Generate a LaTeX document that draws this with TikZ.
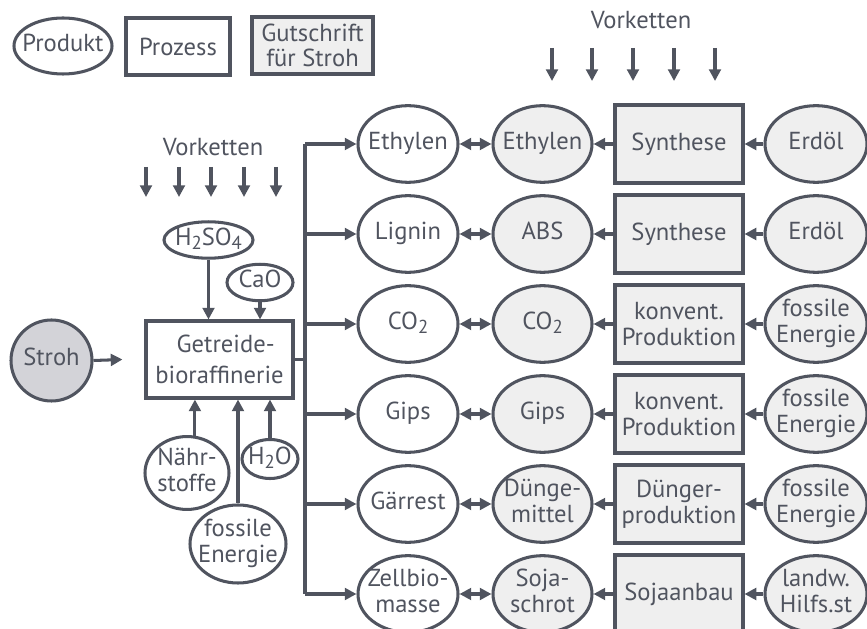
\documentclass[tikz,border=0pt]{standalone}
\usepackage{fontspec}
\setmainfont{PT Sans}
\usetikzlibrary{shapes,arrows.meta,positioning,calc}
\definecolor{linegray}{HTML}{50545F}
\definecolor{fillgray}{HTML}{EFEFEF}
\definecolor{strohgray}{HTML}{D3D3D8}
\newcommand{\low}[1]{\raisebox{-0.35ex}{\fontsize{16}{16}\selectfont #1}}
% text without width, so that the ellipse keeps its size
\newcommand{\zb}[1]{\makebox[0pt]{\begin{tabular}{@{}c@{}}#1\end{tabular}}}

\tikzset{
	txt/.style={text=linegray, font=\fontsize{21}{22}\selectfont, inner sep=0pt},
	produkt/.style={txt, ellipse, draw=linegray, line width=2.6pt, minimum width=3cm, minimum height=2.3cm},
	prozess/.style={txt, align=center, rectangle, draw=linegray, line width=2.6pt, minimum width=3.84cm, minimum height=2.34cm},
	gutschrift/.style={fill=fillgray},
	pfeil/.style={draw=linegray, line width=2.6pt, -{Triangle[length=10pt,width=10pt]}},
	doppelpfeil/.style={draw=linegray, line width=2.6pt, {Triangle[length=10pt,width=10pt]}-{Triangle[length=10pt,width=10pt]}},
	linie/.style={draw=linegray, line width=2.6pt},
}

\begin{document}
\begin{tikzpicture}[x=0.03cm, y=-0.03cm]
	\useasboundingbox (0,0) rectangle (867,629);
	\clip (0,0) rectangle (867,629);
	% legend
	\node[produkt, minimum width=98*0.03cm, minimum height=56*0.03cm] (lgprodukt) at (63,46) {\zb{Produkt}};
	\node[prozess, minimum width=104*0.03cm, minimum height=57*0.03cm] (lgprozess) at (178,46.5) {Prozess};
	\node[prozess, gutschrift, minimum width=121*0.03cm, minimum height=57*0.03cm] (lggutschrift) at (312.5,45.5) {Gutschrift\\für Stroh};
	% vorketten top
	\node[txt] (vkoben) at (641,20) {Vorketten};
	\foreach \x [count=\i] in {552,592,633,674,715} {
		\coordinate (vo\i) at (\x,48);
		\coordinate (vu\i) at (\x,81);
		\draw[pfeil] (vo\i) -- (vu\i);
	}
	% vorketten left
	\node[txt] (vklinks) at (213,147) {Vorketten};
	\foreach \x [count=\i] in {146,179,211,244,276} {
		\coordinate (lo\i) at (\x,167);
		\coordinate (lu\i) at (\x,197);
		\draw[pfeil] (lo\i) -- (lu\i);
	}
	% bioraffinerie
	\node[prozess, minimum width=147*0.03cm, minimum height=77*0.03cm, font=\fontsize{21}{26}\selectfont] (bio) at (219.5,359.5) {\hspace*{0.5em}Getreide-\\bioraffinerie};
	\node[produkt, circle, fill=strohgray, minimum size=81*0.03cm] (stroh) at (51.5,360.5) {\zb{Stroh}};
	\draw[pfeil] (stroh.east) -- ([xshift=-0.66cm]bio.west);
	% inputs
	\node[produkt, minimum width=89*0.03cm, minimum height=34*0.03cm] (hzso) at (208.5,240) {\zb{H\low{2}SO\low{4}}};
	\node[produkt, minimum width=66*0.03cm, minimum height=35*0.03cm] (cao) at (260,282.5) {\zb{CaO}};
	\node[produkt, minimum width=84*0.03cm, minimum height=63*0.03cm] (naehr) at (187,473) {\zb{Nähr-\\stoffe}};
	\node[produkt, minimum width=56*0.03cm, minimum height=39*0.03cm] (wasser) at (270,459) {\zb{H\low{2}O}};
	\node[produkt, minimum width=96*0.03cm, minimum height=78*0.03cm] (fossil) at (238,544) {\zb{fossile\\Energie}};
	\draw[pfeil] (hzso.south) -- (hzso.south |- bio.north);
	\draw[pfeil] (cao.south) -- (cao.south |- bio.north);
	\draw[pfeil] (naehr.78) -- (naehr.78 |- bio.south);
	\draw[pfeil] (wasser.north) -- (wasser.north |- bio.south);
	\draw[pfeil] (fossil.north) -- (fossil.north |- bio.south);
	% rows
	\foreach \i/\a/\b/\c/\d in {
		1/Ethylen/Ethylen/Synthese/Erdöl,
		2/Lignin/ABS/Synthese/Erdöl,
		3/CO\low{2}/CO\low{2}/konvent.\\Produktion/fossile\\Energie,
		4/Gips/Gips/konvent.\\Produktion/fossile\\Energie,
		5/Gärrest/Dünge-\\mittel/Dünger-\\produktion/fossile\\Energie,
		6/Zellbio-\\masse/Soja-\\schrot/Sojaanbau/landw.\\Hilfs.st} {
		\node[produkt] (p\i) at (408,54+90*\i) {\zb{\a}};
		\node[produkt, gutschrift, minimum width=99*0.03cm] (g\i) at (542.5,54+90*\i) {\zb{\b}};
		\node[prozess, gutschrift] (s\i) at (679,54+90*\i) {\c};
		\node[produkt, gutschrift, minimum width=102*0.03cm] (r\i) at (816,54+90*\i) {\zb{\d}};
		\draw[doppelpfeil] (p\i.east) -- (g\i.west);
		\draw[pfeil] (s\i.west) -- (g\i.east);
		\draw[pfeil] (r\i.west) -- (s\i.east);
	}
	% verteiler
	\coordinate (bus) at (305,359.5);
	\draw[linie] (bio.east) -- (bus);
	\draw[linie] (bus |- p1.west) -- (bus |- p6.west);
	\foreach \i in {1,...,6} {
		\draw[pfeil] (bus |- p\i.west) -- (p\i.west);
	}
\end{tikzpicture}
\end{document}
